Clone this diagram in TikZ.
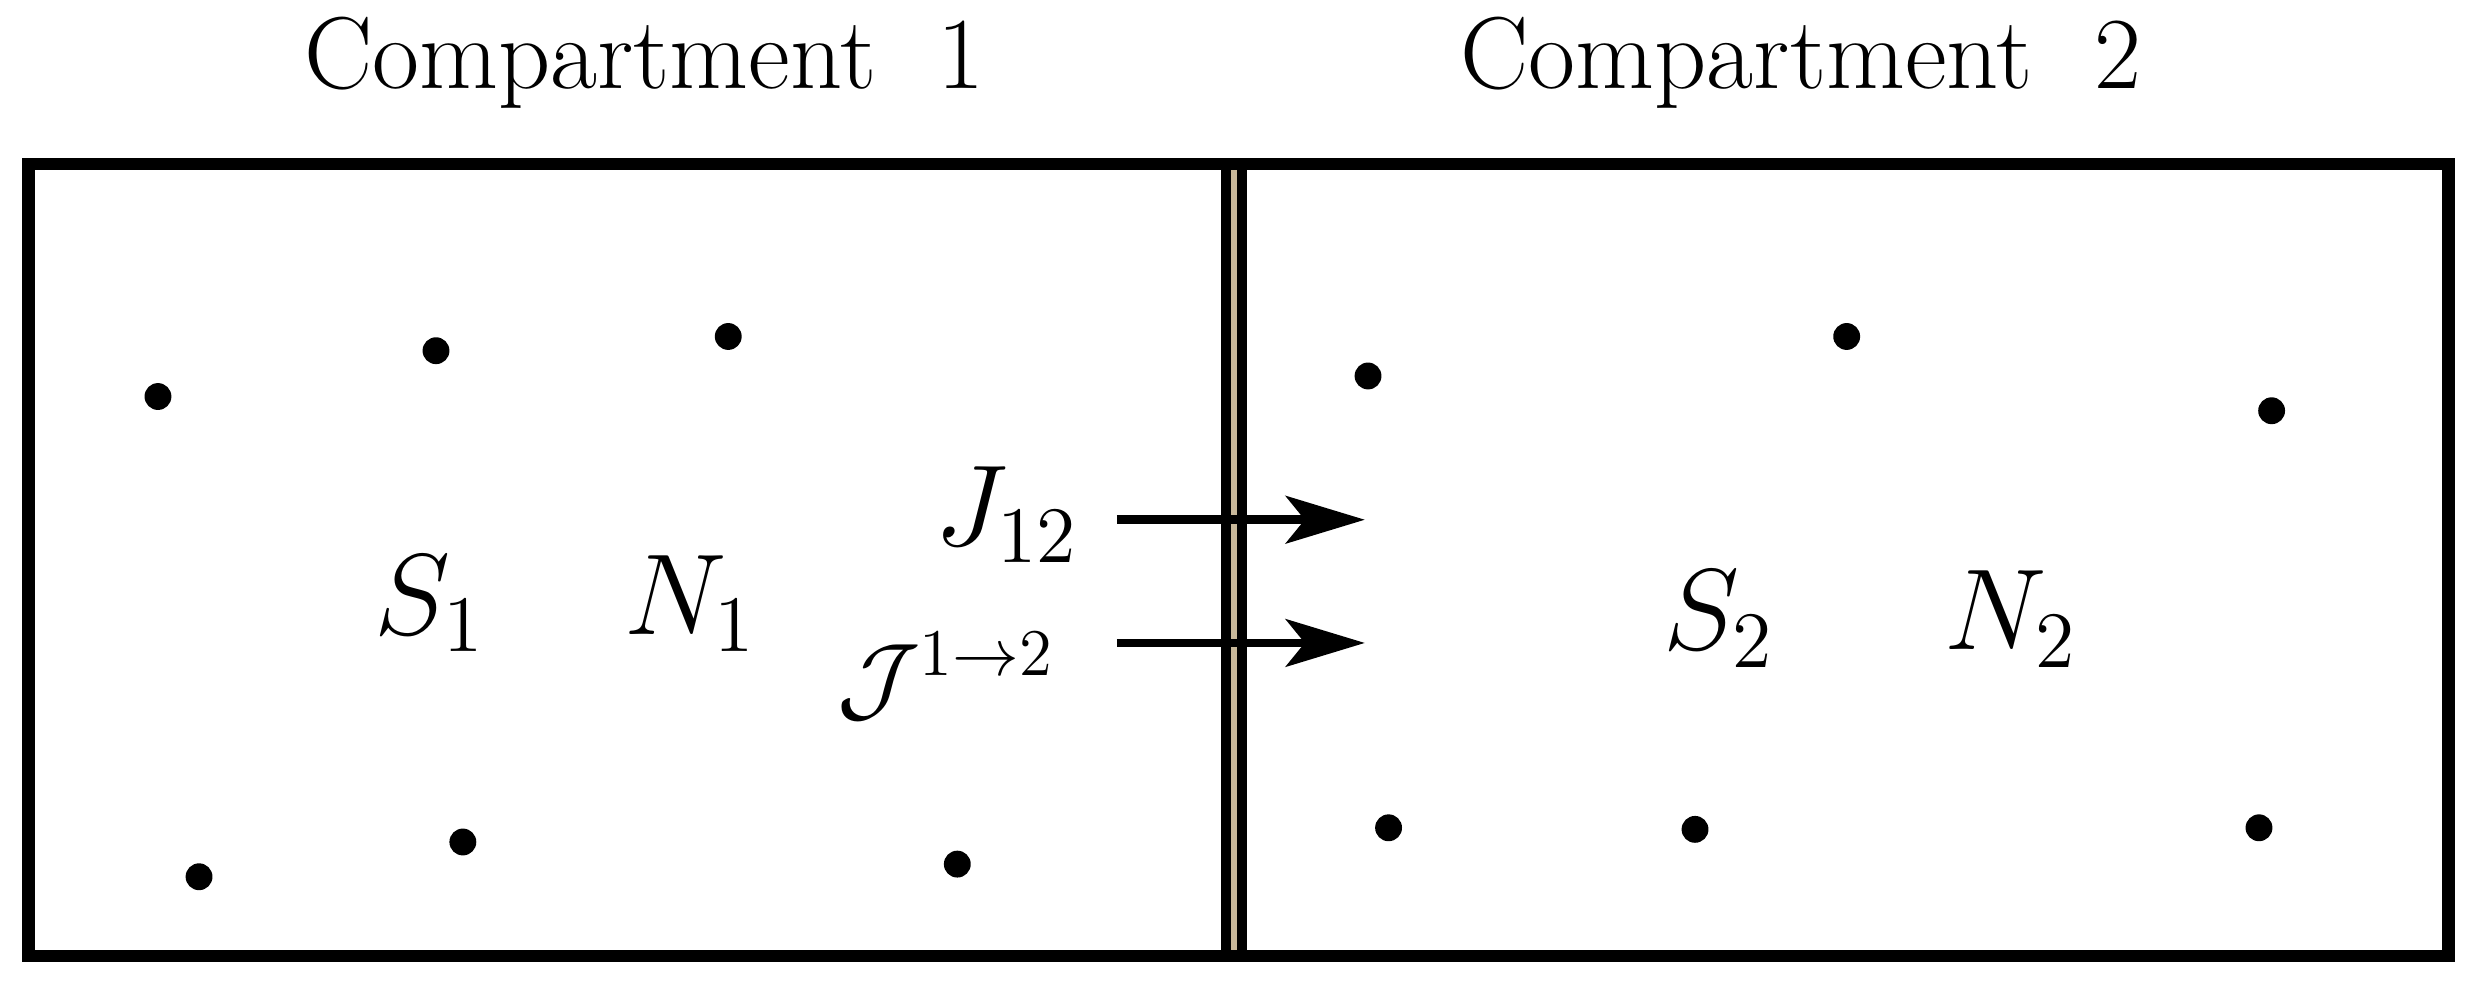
\documentclass[tikz,border=0pt]{standalone}
\usetikzlibrary{arrows.meta}
\begin{document}
\begin{tikzpicture}[x=0.01cm,y=-0.01cm,
  dotp/.style={circle,fill=black,inner sep=0pt,minimum size=0.17cm},
  ttl/.style={font=\fontsize{18.4}{22}\selectfont},
  lbl/.style={font=\fontsize{21}{24}\selectfont},
  arr/.style={line width=1.6pt,-{Stealth[length=0.5cm,width=0.3cm,inset=0.12cm]}}]
\useasboundingbox (0,0) rectangle (1568,624);
\fill[fill={rgb,255:red,200;green,184;blue,154}] (776,104) rectangle (786,605);
\draw[line width=2.2pt] (18,104) rectangle (1550,605);
\draw[line width=1.8pt] (776,104) -- (776,605) (786,104) -- (786,605);
\node[ttl] (t1) at (408,40) {Compartment\ \ 1};
\node[ttl] (t2) at (1140,40) {Compartment\ \ 2};
\foreach \p [count=\i] in {(100,251),(276,222),(461,213),(126,555),(293,533),(606,547),(866,238),(1169,213),(1438,260),(879,524),(1073,525),(1430,524)}
  \node[dotp] (d\i) at \p {};
\node[lbl] (s1) at (272,382) {$S_1$};
\node[lbl] (n1) at (437,382) {$N_1$};
\node[lbl] (s2) at (1088,392) {$S_2$};
\node[lbl] (n2) at (1273,392) {$N_2$};
\node[lbl,anchor=east] (j) at (695,326) {$J_{12}$};
\node[font=\fontsize{17}{20}\selectfont,anchor=east] (jj) at (680,428) {$\mathcal{J}^{1\to2}$};
\coordinate (e1) at (864,329);
\coordinate (e2) at (864,407);
\draw[arr] (707,329) -- (e1);
\draw[arr] (707,407) -- (e2);
\end{tikzpicture}
\end{document}
